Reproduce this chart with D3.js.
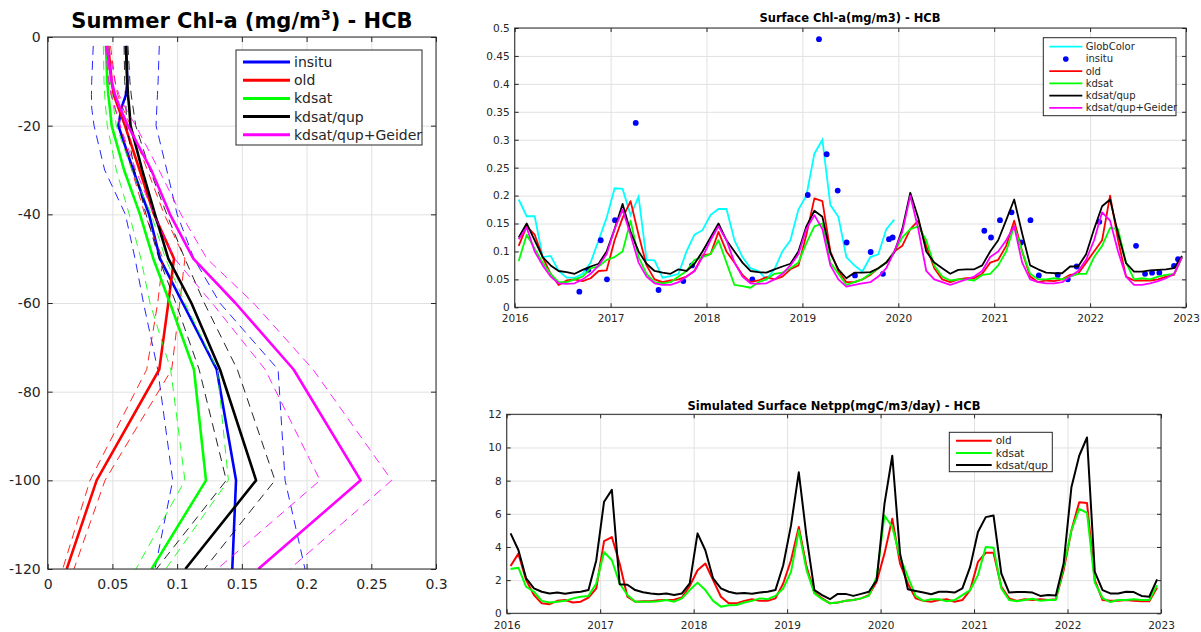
<!DOCTYPE html>
<html>
<head>
<meta charset="utf-8">
<script src="https://cdn.jsdelivr.net/npm/d3@7"></script>
<style>
  body { margin: 0; background: #fff; }
  text { font-family: "DejaVu Sans", sans-serif; }
</style>
</head>
<body>
<svg id="fig" width="1201" height="632"></svg>
<script>
// ---------- Summer Chl-a vertical profiles (mg/m3) ----------
const depths = [-2, -10, -13, -16, -20, -30, -40, -50, -60, -75, -100, -120];

const profInsitu   = [0.0605, 0.0615, 0.0605, 0.057, 0.0546, 0.066, 0.0783, 0.0868, 0.1043, 0.1306, 0.1455, 0.1426];
const profInsituLo = [0.0352, 0.034, 0.0338, 0.034, 0.0358, 0.044, 0.060, 0.0675, 0.074, 0.085, 0.0966, 0.0829];
const profInsituHi = [0.0862, 0.0853, 0.0848, 0.0843, 0.0837, 0.092, 0.100, 0.113, 0.133, 0.178, 0.1834, 0.1988];

const profOld   = [0.0468, 0.0494, 0.051, 0.0546, 0.0597, 0.071, 0.0821, 0.0976, 0.0932, 0.0862, 0.0378, 0.0147];
const profOldLo = [0.0455, 0.0475, 0.049, 0.052, 0.056, 0.065, 0.075, 0.089, 0.085, 0.0765, 0.0327, 0.0116];
const profOldHi = [0.0485, 0.052, 0.054, 0.058, 0.064, 0.077, 0.090, 0.106, 0.102, 0.0958, 0.0443, 0.0203];

const profKdsat   = [0.045, 0.046, 0.0468, 0.048, 0.0494, 0.059, 0.0713, 0.0816, 0.0945, 0.113, 0.1223, 0.0803];
const profKdsatLo = [0.043, 0.0435, 0.044, 0.0448, 0.046, 0.053, 0.063, 0.072, 0.079, 0.095, 0.106, 0.0682];
const profKdsatHi = [0.047, 0.0485, 0.0495, 0.051, 0.053, 0.065, 0.080, 0.091, 0.106, 0.131, 0.1396, 0.0912];

const profQup   = [0.0605, 0.0615, 0.062, 0.063, 0.064, 0.073, 0.0829, 0.0932, 0.111, 0.1331, 0.161, 0.1063];
const profQupLo = [0.059, 0.0595, 0.060, 0.0605, 0.061, 0.067, 0.076, 0.086, 0.099, 0.117, 0.138, 0.084];
const profQupHi = [0.062, 0.0635, 0.0645, 0.066, 0.068, 0.079, 0.092, 0.106, 0.121, 0.1465, 0.1756, 0.121];

const profGeider   = [0.0455, 0.0494, 0.052, 0.0559, 0.062, 0.080, 0.0945, 0.1125, 0.145, 0.190, 0.2418, 0.1627];
const profGeiderLo = [0.0445, 0.047, 0.049, 0.052, 0.056, 0.068, 0.082, 0.098, 0.127, 0.168, 0.2104, 0.131];
const profGeiderHi = [0.047, 0.052, 0.055, 0.060, 0.068, 0.086, 0.103, 0.123, 0.159, 0.205, 0.2658, 0.187];

const profXTicks = [0, 0.05, 0.1, 0.15, 0.2, 0.25, 0.3];
const profYTicks = [-120, -100, -80, -60, -40, -20, 0];

// ---------- Monthly surface Chl-a 2016-2022 (mg/m3) ----------
const startYear = 2016;
const yearTicks = [2016, 2017, 2018, 2019, 2020, 2021, 2022, 2023];
const chlYTicks = [0, 0.05, 0.1, 0.15, 0.2, 0.25, 0.3, 0.35, 0.4, 0.45, 0.5];

const chlGlobColor = [
  0.193, 0.163, 0.163, 0.090, 0.092, 0.065, 0.053, 0.053, 0.060, 0.080, 0.120, 0.160,
  0.213, 0.212, 0.165, 0.198, 0.085, 0.084, 0.053, 0.056, 0.060, 0.100, 0.130, 0.138,
  0.165, 0.176, 0.176, 0.120, 0.090, 0.070, 0.065, 0.050, 0.068, 0.100, 0.120, 0.175,
  0.200, 0.275, 0.300, 0.183, 0.162, 0.090, 0.075, 0.064, 0.090, 0.095, 0.140, 0.157
];
const chlOld = [
  0.110, 0.145, 0.130, 0.090, 0.060, 0.040, 0.048, 0.050, 0.047, 0.052, 0.065, 0.066,
  0.120, 0.160, 0.190, 0.130, 0.075, 0.050, 0.045, 0.048, 0.050, 0.055, 0.065, 0.093,
  0.095, 0.135, 0.100, 0.080, 0.058, 0.045, 0.048, 0.054, 0.050, 0.055, 0.068, 0.075,
  0.130, 0.195, 0.190, 0.100, 0.065, 0.045, 0.045, 0.050, 0.058, 0.070, 0.080, 0.100,
  0.110, 0.140, 0.155, 0.110, 0.070, 0.050, 0.045, 0.050, 0.052, 0.052, 0.060, 0.080,
  0.085, 0.110, 0.155, 0.100, 0.055, 0.045, 0.048, 0.047, 0.050, 0.058, 0.060, 0.080,
  0.100, 0.120, 0.200, 0.120, 0.055, 0.048, 0.048, 0.048, 0.050, 0.055, 0.058, 0.090
];
const chlKdsat = [
  0.083, 0.130, 0.105, 0.080, 0.060, 0.045, 0.045, 0.050, 0.055, 0.070, 0.073, 0.085,
  0.090, 0.100, 0.155, 0.090, 0.060, 0.045, 0.043, 0.045, 0.055, 0.065, 0.085, 0.090,
  0.095, 0.120, 0.080, 0.040, 0.038, 0.035, 0.045, 0.050, 0.060, 0.062, 0.070, 0.080,
  0.115, 0.145, 0.150, 0.080, 0.060, 0.040, 0.045, 0.050, 0.060, 0.070, 0.080, 0.100,
  0.125, 0.140, 0.145, 0.120, 0.075, 0.055, 0.048, 0.050, 0.050, 0.048, 0.058, 0.060,
  0.075, 0.100, 0.145, 0.100, 0.060, 0.050, 0.050, 0.052, 0.050, 0.055, 0.060, 0.060,
  0.090, 0.110, 0.142, 0.140, 0.080, 0.050, 0.052, 0.050, 0.055, 0.058, 0.060, 0.090
];
const chlQup = [
  0.125, 0.150, 0.120, 0.090, 0.075, 0.065, 0.063, 0.060, 0.067, 0.073, 0.078, 0.100,
  0.140, 0.185, 0.135, 0.100, 0.078, 0.065, 0.062, 0.060, 0.068, 0.065, 0.078, 0.100,
  0.125, 0.150, 0.120, 0.100, 0.080, 0.065, 0.063, 0.062, 0.068, 0.073, 0.078, 0.100,
  0.145, 0.173, 0.162, 0.097, 0.068, 0.052, 0.062, 0.062, 0.063, 0.070, 0.080, 0.098,
  0.140, 0.205, 0.160, 0.100, 0.080, 0.070, 0.060, 0.067, 0.068, 0.068, 0.075, 0.100,
  0.120, 0.156, 0.193, 0.132, 0.075, 0.068, 0.062, 0.061, 0.061, 0.073, 0.073, 0.095,
  0.140, 0.181, 0.193, 0.132, 0.079, 0.064, 0.064, 0.066, 0.067, 0.068, 0.070, 0.092
];
const chlGeider = [
  0.122, 0.143, 0.100, 0.075, 0.055, 0.043, 0.042, 0.043, 0.050, 0.060, 0.075, 0.095,
  0.140, 0.175, 0.130, 0.080, 0.055, 0.043, 0.040, 0.040, 0.045, 0.055, 0.065, 0.090,
  0.120, 0.145, 0.120, 0.080, 0.055, 0.043, 0.042, 0.043, 0.050, 0.060, 0.075, 0.095,
  0.140, 0.165, 0.140, 0.075, 0.050, 0.037, 0.040, 0.043, 0.045, 0.055, 0.070, 0.100,
  0.135, 0.200, 0.140, 0.065, 0.050, 0.045, 0.040, 0.045, 0.050, 0.055, 0.065, 0.090,
  0.100, 0.120, 0.145, 0.080, 0.050, 0.045, 0.043, 0.043, 0.045, 0.055, 0.065, 0.085,
  0.120, 0.170, 0.155, 0.100, 0.055, 0.040, 0.040, 0.043, 0.047, 0.052, 0.060, 0.090
];
// in situ samples: [decimal year, Chl-a]
const chlInsitu = [
  [2016.674, 0.028], [2016.768, 0.067], [2016.897, 0.120], [2016.962, 0.050], [2017.046, 0.156],
  [2017.262, 0.330], [2017.500, 0.031], [2017.758, 0.047], [2017.849, 0.075], [2018.478, 0.050],
  [2019.056, 0.201], [2019.173, 0.480], [2019.253, 0.274], [2019.368, 0.209], [2019.461, 0.116],
  [2019.548, 0.057], [2019.712, 0.099], [2019.840, 0.060], [2019.903, 0.122], [2019.941, 0.125],
  [2020.897, 0.137], [2020.967, 0.125], [2021.060, 0.156], [2021.181, 0.170], [2021.280, 0.116],
  [2021.378, 0.156], [2021.465, 0.057], [2021.663, 0.058], [2021.767, 0.050], [2021.860, 0.073],
  [2022.096, 0.153], [2022.479, 0.110], [2022.573, 0.060], [2022.646, 0.062], [2022.722, 0.062],
  [2022.875, 0.074], [2022.917, 0.086]
];

// ---------- Monthly simulated surface net primary production (mgC/m3/day) ----------
const nppYTicks = [0, 2, 4, 6, 8, 10, 12];
const nppOld = [
  2.85, 3.60, 2.00, 1.10, 0.60, 0.55, 0.75, 0.80, 0.65, 0.70, 0.95, 1.50,
  4.35, 4.60, 3.00, 1.00, 0.70, 0.72, 0.72, 0.78, 0.80, 0.82, 0.95, 1.65,
  2.60, 3.00, 2.00, 1.00, 0.60, 0.60, 0.75, 0.85, 0.75, 0.75, 0.90, 1.80,
  3.20, 5.20, 2.80, 1.25, 0.90, 0.60, 0.65, 0.75, 0.80, 0.90, 1.10, 1.90,
  3.60, 5.70, 3.00, 1.80, 0.90, 0.75, 0.70, 0.80, 0.85, 0.70, 0.80, 1.40,
  3.10, 3.65, 3.65, 1.60, 0.90, 0.75, 0.85, 0.80, 0.85, 0.80, 0.85, 2.60,
  5.00, 6.70, 6.65, 2.00, 0.80, 0.75, 0.75, 0.80, 0.75, 0.72, 0.72, 1.55
];
const nppKdsat = [
  2.67, 2.75, 1.60, 1.30, 0.75, 0.65, 0.70, 0.75, 0.90, 1.00, 1.05, 1.80,
  3.70, 3.20, 1.80, 1.10, 0.70, 0.70, 0.70, 0.72, 0.80, 0.70, 0.90, 1.40,
  1.85, 1.40, 0.75, 0.40, 0.48, 0.50, 0.65, 0.75, 0.90, 0.85, 1.05, 1.50,
  2.50, 5.00, 2.60, 1.20, 0.85, 0.60, 0.65, 0.75, 0.80, 0.90, 1.05, 2.20,
  5.90, 5.20, 3.40, 2.20, 1.05, 0.75, 0.85, 0.85, 0.72, 0.80, 1.10, 1.40,
  2.30, 4.00, 3.95, 1.50, 0.80, 0.72, 0.80, 0.88, 0.75, 0.80, 0.80, 2.80,
  5.00, 6.30, 6.05, 1.85, 0.92, 0.68, 0.80, 0.80, 0.85, 0.80, 0.80, 1.70
];
const nppQup = [
  4.82, 3.82, 2.10, 1.50, 1.30, 1.20, 1.25, 1.18, 1.25, 1.30, 1.40, 3.20,
  6.73, 7.44, 1.75, 1.72, 1.40, 1.27, 1.20, 1.15, 1.20, 1.10, 1.20, 1.80,
  4.82, 3.80, 2.10, 1.50, 1.30, 1.20, 1.22, 1.18, 1.25, 1.30, 1.40, 2.90,
  5.30, 8.50, 4.60, 1.40, 1.10, 0.85, 1.17, 1.17, 1.05, 1.17, 1.30, 2.00,
  6.60, 9.50, 3.60, 1.45, 1.35, 1.25, 1.15, 1.30, 1.30, 1.25, 1.50, 2.80,
  4.90, 5.80, 5.90, 2.40, 1.25, 1.28, 1.28, 1.25, 1.05, 1.10, 1.08, 3.00,
  7.60, 9.50, 10.60, 2.50, 1.40, 1.20, 1.20, 1.30, 1.28, 1.05, 1.00, 2.05
];

// ---------- helpers ----------
const svg = d3.select("#fig");
const AXIS = "#262626", GRID = "#e1e1e1";
const monthTime = i => startYear + (i + 0.5) / 12;   // mid-month position

function drawFrame(g, x, y, o) {
  const [xl, xr] = x.range(), [yb, yt] = y.range();
  const W = xr - xl, H = yb - yt;
  g.append("g").attr("transform", `translate(0,${yb})`)
    .call(d3.axisBottom(x).tickValues(o.xTicks).tickSize(-H).tickFormat(""))
    .call(s => { s.select(".domain").remove(); s.selectAll("line").attr("stroke", GRID); });
  g.append("g").attr("transform", `translate(${xl},0)`)
    .call(d3.axisLeft(y).tickValues(o.yTicks).tickSize(-W).tickFormat(""))
    .call(s => { s.select(".domain").remove(); s.selectAll("line").attr("stroke", GRID); });
}

function drawAxes(g, x, y, o) {
  const [xl, xr] = x.range(), [yb, yt] = y.range();
  const tl = o.tickLen;
  const style = s => {
    s.select(".domain").remove();
    s.selectAll("line").attr("stroke", AXIS);
    s.selectAll("text").attr("fill", AXIS).style("font-size", o.fontSize + "px")
      .style("font-family", '"DejaVu Sans", sans-serif');
  };
  g.append("g").attr("transform", `translate(0,${yb})`)
    .call(d3.axisBottom(x).tickValues(o.xTicks).tickSizeInner(-tl).tickSizeOuter(0)
      .tickPadding(o.xPad).tickFormat(o.xFmt)).call(style);
  g.append("g").attr("transform", `translate(0,${yt})`)
    .call(d3.axisTop(x).tickValues(o.xTicks).tickSizeInner(-tl).tickSizeOuter(0).tickFormat(""))
    .call(style);
  g.append("g").attr("transform", `translate(${xl},0)`)
    .call(d3.axisLeft(y).tickValues(o.yTicks).tickSizeInner(-tl).tickSizeOuter(0)
      .tickPadding(o.yPad).tickFormat(o.yFmt)).call(style);
  g.append("g").attr("transform", `translate(${xr},0)`)
    .call(d3.axisRight(y).tickValues(o.yTicks).tickSizeInner(-tl).tickSizeOuter(0).tickFormat(""))
    .call(style);
  g.append("rect").attr("x", xl).attr("y", yt).attr("width", xr - xl).attr("height", yb - yt)
    .attr("fill", "none").attr("stroke", AXIS).attr("stroke-width", 1);
}

function clipFor(id, x, y) {
  const [xl, xr] = x.range(), [yb, yt] = y.range();
  svg.append("clipPath").attr("id", id).append("rect")
    .attr("x", xl).attr("y", yt).attr("width", xr - xl).attr("height", yb - yt);
  return `url(#${id})`;
}

function legendBox(g, o) {
  g.append("rect").attr("x", o.x).attr("y", o.y).attr("width", o.w).attr("height", o.h)
    .attr("fill", "#fff").attr("stroke", AXIS).attr("stroke-width", 1);
  o.items.forEach((it, i) => {
    const yy = o.y + o.first + i * o.step;
    if (it.dot) {
      g.append("circle").attr("cx", (o.lx0 + o.lx1) / 2).attr("cy", yy).attr("r", o.dotR)
        .attr("fill", it.color);
    } else {
      g.append("line").attr("x1", o.lx0).attr("x2", o.lx1).attr("y1", yy).attr("y2", yy)
        .attr("stroke", it.color).attr("stroke-width", o.lw);
    }
    g.append("text").attr("x", o.tx).attr("y", yy).attr("dy", "0.35em")
      .style("font-size", o.fontSize + "px").attr("fill", AXIS).text(it.name);
  });
}

// ================= Left: summer profiles =================
{
  const x = d3.scaleLinear().domain([0, 0.3]).range([47.7, 436]);
  const y = d3.scaleLinear().domain([-120, 0]).range([569, 37]);
  const g = svg.append("g");
  drawFrame(g, x, y, { xTicks: profXTicks, yTicks: profYTicks });

  const series = [
    { name: "insitu", color: "#0000ff", m: profInsitu, lo: profInsituLo, hi: profInsituHi },
    { name: "old", color: "#ff0000", m: profOld, lo: profOldLo, hi: profOldHi },
    { name: "kdsat", color: "#00ff00", m: profKdsat, lo: profKdsatLo, hi: profKdsatHi },
    { name: "kdsat/qup", color: "#000000", m: profQup, lo: profQupLo, hi: profQupHi },
    { name: "kdsat/qup+Geider", color: "#ff00ff", m: profGeider, lo: profGeiderLo, hi: profGeiderHi }
  ];
  const line = d3.line().x(d => x(d[0])).y(d => y(d[1]));
  const plot = g.append("g").attr("clip-path", clipFor("clipProf", x, y));
  series.forEach(s => {
    [s.lo, s.hi].forEach(arr => {
      plot.append("path").datum(arr.map((v, i) => [v, depths[i]]))
        .attr("d", line).attr("fill", "none").attr("stroke", s.color)
        .attr("stroke-width", 1).attr("stroke-dasharray", "9,6").attr("opacity", 0.85);
    });
    plot.append("path").datum(s.m.map((v, i) => [v, depths[i]]))
      .attr("d", line).attr("fill", "none").attr("stroke", s.color)
      .attr("stroke-width", 2.6).attr("stroke-linejoin", "round");
  });

  drawAxes(g, x, y, {
    xTicks: profXTicks, yTicks: profYTicks, tickLen: 5, fontSize: 14,
    xPad: 10, yPad: 7, xFmt: d => String(d), yFmt: d => String(d)
  });

  const t = g.append("text").attr("x", 242).attr("y", 28).attr("text-anchor", "middle")
    .style("font-size", "21px").style("font-weight", "bold").attr("fill", "#000");
  t.append("tspan").text("Summer Chl-a (mg/m");
  t.append("tspan").attr("dy", -8).style("font-size", "14px").text("3");
  t.append("tspan").attr("dy", 8).text(") - HCB");

  legendBox(g, {
    x: 236, y: 50, w: 186, h: 95, first: 12, step: 18.2,
    lx0: 243, lx1: 290, tx: 294, lw: 3, fontSize: 14, dotR: 3,
    items: series.map(s => ({ name: s.name, color: s.color }))
  });
}

// ================= Top right: surface Chl-a =================
{
  const x = d3.scaleLinear().domain([2016, 2023]).range([514.7, 1186]);
  const y = d3.scaleLinear().domain([0, 0.5]).range([307.3, 28]);
  const g = svg.append("g");
  drawFrame(g, x, y, { xTicks: yearTicks, yTicks: chlYTicks });

  const line = d3.line().x((d, i) => x(monthTime(i))).y(d => y(d));
  const plot = g.append("g").attr("clip-path", clipFor("clipChl", x, y));
  plot.append("path").datum(chlGlobColor).attr("d", line).attr("fill", "none")
    .attr("stroke", "#00ffff").attr("stroke-width", 1.8);
  plot.selectAll("circle.insitu").data(chlInsitu).join("circle").attr("class", "insitu")
    .attr("cx", d => x(d[0])).attr("cy", d => y(d[1])).attr("r", 2.9).attr("fill", "#0000ff");
  [[chlOld, "#ff0000"], [chlKdsat, "#00ff00"], [chlQup, "#000000"], [chlGeider, "#ff00ff"]]
    .forEach(([arr, c]) => {
      plot.append("path").datum(arr).attr("d", line).attr("fill", "none")
        .attr("stroke", c).attr("stroke-width", 1.8).attr("stroke-linejoin", "round");
    });

  drawAxes(g, x, y, {
    xTicks: yearTicks, yTicks: chlYTicks, tickLen: 4, fontSize: 10.5,
    xPad: 7.5, yPad: 5, xFmt: d => String(d), yFmt: d => String(d)
  });

  g.append("text").attr("x", 850).attr("y", 22).attr("text-anchor", "middle")
    .style("font-size", "11.5px").style("font-weight", "bold").attr("fill", "#000")
    .text("Surface Chl-a(mg/m3) - HCB");

  legendBox(g, {
    x: 1043.3, y: 37.7, w: 132.7, h: 78, first: 9, step: 12.25,
    lx0: 1049.3, lx1: 1082.3, tx: 1085.7, lw: 1.8, fontSize: 10, dotR: 2.8,
    items: [
      { name: "GlobColor", color: "#00ffff" },
      { name: "insitu", color: "#0000ff", dot: true },
      { name: "old", color: "#ff0000" },
      { name: "kdsat", color: "#00ff00" },
      { name: "kdsat/qup", color: "#000000" },
      { name: "kdsat/qup+Geider", color: "#ff00ff" }
    ]
  });
}

// ================= Bottom right: simulated net PP =================
{
  const x = d3.scaleLinear().domain([2016, 2023]).range([506.7, 1161]);
  const y = d3.scaleLinear().domain([0, 12]).range([613.3, 414.3]);
  const g = svg.append("g");
  drawFrame(g, x, y, { xTicks: yearTicks, yTicks: nppYTicks });

  const line = d3.line().x((d, i) => x(monthTime(i))).y(d => y(d));
  const plot = g.append("g").attr("clip-path", clipFor("clipNpp", x, y));
  [[nppOld, "#ff0000"], [nppKdsat, "#00ff00"], [nppQup, "#000000"]].forEach(([arr, c]) => {
    plot.append("path").datum(arr).attr("d", line).attr("fill", "none")
      .attr("stroke", c).attr("stroke-width", 2).attr("stroke-linejoin", "round");
  });

  drawAxes(g, x, y, {
    xTicks: yearTicks, yTicks: nppYTicks, tickLen: 4, fontSize: 10.5,
    xPad: 8.5, yPad: 5, xFmt: d => String(d), yFmt: d => String(d)
  });

  g.append("text").attr("x", 834).attr("y", 410).attr("text-anchor", "middle")
    .style("font-size", "11.5px").style("font-weight", "bold").attr("fill", "#000")
    .text("Simulated Surface Netpp(mgC/m3/day) - HCB");

  legendBox(g, {
    x: 949.3, y: 432.3, w: 103, h: 39.4, first: 8.4, step: 12.2,
    lx0: 956, lx1: 991.7, tx: 995.7, lw: 2, fontSize: 10.5, dotR: 2.8,
    items: [
      { name: "old", color: "#ff0000" },
      { name: "kdsat", color: "#00ff00" },
      { name: "kdsat/qup", color: "#000000" }
    ]
  });
}
</script>
</body>
</html>
